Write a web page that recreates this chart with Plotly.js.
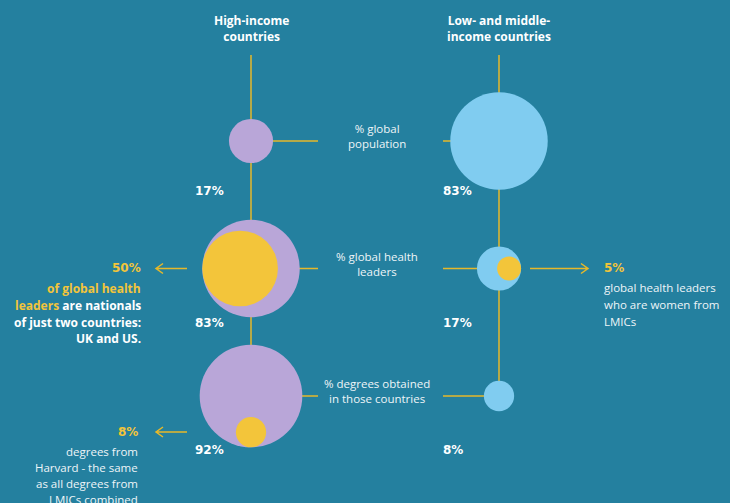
<!DOCTYPE html>
<html>
<head>
<meta charset="utf-8">
<script src="https://cdn.plot.ly/plotly-3.0.1.min.js"></script>
<style>
html,body{margin:0;padding:0;background:#24809f;}
#chart{width:730px;height:503px;}
</style>
</head>
<body>
<div id="chart"></div>
<script>
// ---- data ----
const groups = ["High-income<br>countries", "Low- and middle-<br>income countries"];
const metrics = ["% global<br>population", "% global health<br>leaders", "% degrees obtained<br>in those countries"];
const hicValues = [17, 83, 92];
const lmicValues = [83, 17, 8];
// highlighted sub-shares: [value, column (0=HIC,1=LMIC), row]
const highlightValues = [50, 5, 8];
const highlightGroup = [0, 1, 0];
const highlightRow = [1, 1, 2];
const highlightText = [
  ["<span style='color:#f3c53a'>of global health</span>",
   "<span style='color:#f3c53a'>leaders</span> are nationals",
   "of just two countries:",
   "UK and US."],
  ["global health leaders", "who are women from", "LMICs"],
  ["degrees from", "Harvard - the same", "as all degrees from", "LMICs combined"]
];

// ---- geometry helpers (pixel <-> data) ----
const W = 730, H = 503;
const colPx = [251, 499], rowPx0 = 141, rowStep = 127.5, colStep = colPx[1] - colPx[0];
const xr = [-colPx[0] / colStep, (W - colPx[0]) / colStep];
const yr = [(H - rowPx0) / rowStep, -rowPx0 / rowStep];
const xd = px => xr[0] + px / colStep;
const yd = py => (py - rowPx0) / rowStep;
const dx = p => p / colStep, dy = p => p / rowStep;

const K = 5.35;                      // radius px per sqrt(value)
const sizeref = 2 / ((2 * K) * (2 * K));
const rad = v => K * Math.sqrt(v);

const yellow = "#f3c53a", line = "#e6b82a", purple = "#b9a6d8", blue = "#80ccf0";
const rows = metrics.map((m, i) => i);

const mk = (vals, color) => ({size: vals, sizemode: "area", sizeref: sizeref, color: color,
  opacity: 1, line: {width: 0}});
const traces = [];
traces.push({type: "scatter", mode: "markers", x: rows.map(() => 0), y: rows, hoverinfo: "skip",
  marker: mk(hicValues, purple)});
traces.push({type: "scatter", mode: "markers", x: rows.map(() => 1), y: rows, hoverinfo: "skip",
  marker: mk(lmicValues, blue)});
// highlight circles, tangent inside parent (left / right / bottom)
const parentVals = [hicValues, lmicValues];
const dirs = [[-1, 0], [1, 0], [0, 1]];
const hx = [], hy = [];
highlightValues.forEach((v, i) => {
  const g = highlightGroup[i], r = highlightRow[i];
  const off = rad(parentVals[g][r]) - rad(v);
  hx.push(g + dx(off * dirs[i][0]));
  hy.push(r + dy(off * dirs[i][1]));
});
traces.push({type: "scatter", mode: "markers", x: hx, y: hy, hoverinfo: "skip",
  marker: mk(highlightValues, yellow)});

// ---- shapes (connector lines) ----
const shapes = [];
const ln = (x0, y0, x1, y1) => ({type: "line", layer: "below", x0, y0, x1, y1,
  line: {color: line, width: 1.5}});
[0, 1].forEach(g => shapes.push(ln(g, yd(55), g, 2)));
rows.forEach(r => {
  shapes.push(ln(0, r, xd(318), r));
  shapes.push(ln(xd(443), r, 1, r));
});
// open arrows
const arrow = (pxFrom, pxTo, py) => {
  const s = Math.sign(pxTo - pxFrom);
  return {type: "path", layer: "above",
    path: `M ${xd(pxFrom)} ${yd(py)} L ${xd(pxTo)} ${yd(py)} M ${xd(pxTo - s * 7)} ${yd(py - 5)} L ${xd(pxTo)} ${yd(py)} L ${xd(pxTo - s * 7)} ${yd(py + 5)}`,
    line: {color: line, width: 1.5}};
};
shapes.push(arrow(187, 156, rowPx0 + rowStep));
shapes.push(arrow(530, 588, rowPx0 + rowStep));
shapes.push(arrow(187, 156, 432));

// ---- annotations ----
const ann = [];
const bold = {family: "Open Sans", size: 12, color: "#ffffff", weight: 700};
const reg = {family: "Open Sans", size: 11.5, color: "#eef5f8"};
const pct = {family: "DejaVu Sans", size: 12, color: "#ffffff", weight: 700};
groups.forEach((g, i) => ann.push({x: i, y: yd(28), text: g, showarrow: false,
  font: bold, align: "center", xanchor: "center", yanchor: "middle"}));
metrics.forEach((m, i) => ann.push({x: xd(377), y: i + dy(-5), text: m, showarrow: false,
  font: reg, align: "center", xanchor: "center", yanchor: "middle"}));
const pctOffsetY = [50, 54, 54];
[hicValues, lmicValues].forEach((vals, g) => vals.forEach((v, r) => ann.push({
  x: g + dx(-58), y: r + dy(pctOffsetY[r]), text: v + "%", showarrow: false,
  font: pct, xanchor: "left", yanchor: "middle"})));

// highlight call-outs
const calloutPos = [
  {x: 143, y: 268, anchor: "right", lineY: [288, 305, 322, 338], font: bold},
  {x: 602, y: 268, anchor: "left", lineY: [287, 304, 321], font: reg},
  {x: 140, y: 432, anchor: "right", lineY: [451, 467, 483, 499], font: reg}
];
highlightValues.forEach((v, i) => {
  const p = calloutPos[i];
  ann.push({x: xd(p.x), y: yd(p.y), text: v + "%", showarrow: false,
    font: {family: "DejaVu Sans", size: 12, color: yellow, weight: 700},
    xanchor: p.anchor, yanchor: "middle", align: p.anchor});
  highlightText[i].forEach((t, j) => ann.push({x: xd(p.x), y: yd(p.lineY[j]), text: t,
    showarrow: false, font: p.font, xanchor: p.anchor, yanchor: "middle", align: p.anchor}));
});

const layout = {
  width: W, height: H, margin: {l: 0, r: 0, t: 0, b: 0},
  paper_bgcolor: "#24809f", plot_bgcolor: "#24809f",
  showlegend: false,
  xaxis: {range: xr, visible: false, fixedrange: true},
  yaxis: {range: yr, visible: false, fixedrange: true},
  shapes: shapes, annotations: ann
};
Plotly.newPlot("chart", traces, layout, {displayModeBar: false, staticPlot: true});
</script>
</body>
</html>
